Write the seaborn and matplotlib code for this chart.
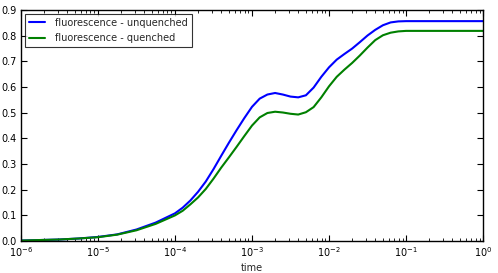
import numpy as np
import pandas as pd
import seaborn as sns
import matplotlib
matplotlib.use("Agg")
import matplotlib.pyplot as plt

# ----------------------------------------
# Data (log10 of time, fluorescence levels)
# ----------------------------------------
log_time = [-6.0, -5.75, -5.5, -5.25, -5.0, -4.75, -4.5, -4.25,
            -4.0, -3.9, -3.8, -3.7, -3.6, -3.5, -3.4, -3.3, -3.2, -3.1,
            -3.0, -2.9, -2.8, -2.7, -2.6, -2.5, -2.4, -2.3, -2.2, -2.1,
            -2.0, -1.9, -1.8, -1.7, -1.6, -1.5, -1.4, -1.3, -1.2, -1.1,
            -1.0, -0.5, 0.0]
unquenched = [0.002, 0.004, 0.006, 0.010, 0.016, 0.026, 0.045, 0.072,
              0.108, 0.130, 0.158, 0.192, 0.232, 0.280, 0.332, 0.383, 0.432, 0.479,
              0.523, 0.555, 0.571, 0.577, 0.571, 0.563, 0.560, 0.568, 0.598, 0.640,
              0.677, 0.707, 0.729, 0.750, 0.775, 0.801, 0.823, 0.841, 0.852, 0.856,
              0.857, 0.857, 0.857]
quenched = [0.002, 0.004, 0.006, 0.010, 0.015, 0.025, 0.042, 0.067,
            0.100, 0.118, 0.143, 0.170, 0.203, 0.243, 0.286, 0.326, 0.367, 0.409,
            0.450, 0.482, 0.499, 0.504, 0.501, 0.496, 0.493, 0.502, 0.522, 0.560,
            0.603, 0.640, 0.668, 0.694, 0.723, 0.754, 0.783, 0.802, 0.812, 0.817,
            0.819, 0.819, 0.819]
labels = ["fluorescence - unquenched", "fluorescence - quenched"]

time = 10.0 ** np.array(log_time)
df = pd.DataFrame({
    "time": np.concatenate([time, time]),
    "value": unquenched + quenched,
    "series": [labels[0]] * len(time) + [labels[1]] * len(time),
})

# ----------------------------------------
# Style (old matplotlib look: inward ticks on every side)
# ----------------------------------------
sns.set_style("ticks")
plt.rcParams.update({
    "font.family": ["DejaVu Sans"],
    "font.size": 7,
    "xtick.direction": "in",
    "ytick.direction": "in",
    "xtick.top": True,
    "ytick.right": True,
    "xtick.major.size": 4,
    "ytick.major.size": 4,
    "xtick.minor.size": 2,
    "xtick.color": "black",
    "ytick.color": "black",
    "axes.edgecolor": "black",
    "axes.linewidth": 1.0,
})

fig = plt.figure(figsize=(4.98, 2.73), dpi=100)
ax = fig.add_axes([0.042, 0.117, 0.928, 0.846])

sns.lineplot(data=df, x="time", y="value", hue="series",
             palette=["#0000ff", "#008000"], linewidth=1.5, ax=ax,
             sort=False)

ax.set_xscale("log")
ax.set_xlim(1e-6, 1e0)
ax.set_ylim(0, 0.9)
ax.set_yticks(np.arange(0, 0.91, 0.1))
ax.set_xlabel("time", fontsize=7, labelpad=3)
ax.set_ylabel("")
ax.tick_params(axis="both", which="both", labelsize=7, pad=3)

leg = ax.legend(loc="upper left", fontsize=7, frameon=True, fancybox=False,
                borderpad=0.4, handlelength=1.7, handletextpad=1.0,
                labelspacing=0.55, borderaxespad=0.4)
leg.get_frame().set_edgecolor("black")
leg.get_frame().set_linewidth(0.8)
leg.set_title(None)

fig.savefig("out.png", dpi=100)
